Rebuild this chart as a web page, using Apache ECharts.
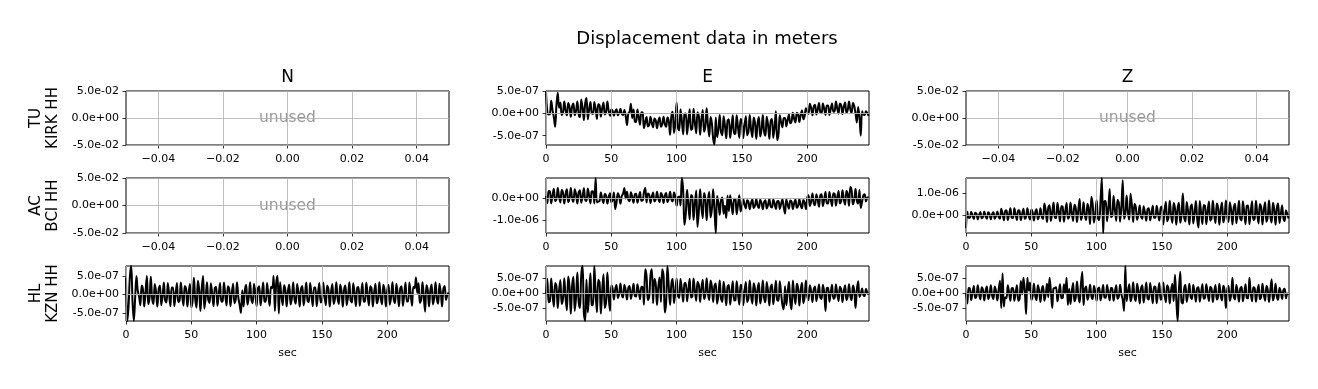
<!DOCTYPE html>
<html><head><meta charset="utf-8">
<script src="https://cdn.jsdelivr.net/npm/echarts@6/dist/echarts.min.js"></script>
<style>html,body{margin:0;padding:0;background:#fff}#c{width:1318px;height:389px}</style>
</head><body><div id="c"></div>
<script>
const SUPTITLE = 'Displacement data in meters';
const COMPONENTS = ['N', 'E', 'Z'];
const STATIONS = ['TU\nKIRK HH', 'AC\nBCI HH', 'HL\nKZN HH'];
const X_LABEL = 'sec';
const UNUSED_LABEL = 'unused';
const DT = 1;          // seconds between samples
const UNIT = 1e-7;     // trace values below are in units of 1e-7 m
const TIME_MAX = 247.3;
const TIME_TICKS = [0, 50, 100, 150, 200];
const UNUSED_X_TICKS = [-0.04, -0.02, 0, 0.02, 0.04];
const UNUSED_Y_TICKS = [-0.05, 0, 0.05];
const TICKS_HALF = [-5e-7, 0, 5e-7];
const TICKS_AC_E = [-1e-6, 0];
const TICKS_AC_Z = [0, 1e-6];

const TU_E = [
5,0.5,-0.2,-0.1,2.9,0.8,-0.8,-3,1.9,4.7,
1.3,2.5,-0.3,0.3,2.7,0.6,-0.4,2.4,1.5,-0.7,
1.6,2.3,-0.4,0.6,2.7,-0.1,-0.8,3.2,1.4,-1.5,
2.3,3.5,-1.3,0.9,2.6,0.1,-0.1,2.6,1.0,-1.2,
2.1,1.9,-0.7,1.2,2.5,-0.2,0.3,2.7,0.6,-0.5,
0.9,0.6,-0.5,0.5,1.0,-0.4,0.1,1.1,0,-0.3,
0.8,-0.5,-2.6,0,0.4,2.2,-1.0,0.9,-1.8,-1.9,
0.9,-0.8,-2.5,0.3,0.2,-3.3,-1.9,-0.8,-2.9,-2.6,
-0.7,-2.2,-3.1,-1.1,-1.5,-3.3,-1.7,-0.9,-3.0,-2.4,
-0.7,-2.4,-3.0,-0.9,-1.7,-4.8,-0.6,0.4,-4.4,-2.3,
2.5,-3.2,-3.8,1.0,-1.6,-4.7,-0.1,0,-4.7,-1.7,
1.0,-3.7,-3.4,1.1,-2.1,-4.5,0.3,-0.5,-4.8,-1.2,
0.8,-4.1,-2.9,1.2,-2.6,-5.2,-0.8,-2.2,-5.7,-7,
-0.9,-5.3,-3.6,-0.3,-4.2,-4.9,-0.6,-2.7,-5.6,-1.6,
-1.3,-5.5,-3.1,-0.4,-4.6,-4.5,-0.4,-3.1,-5.5,-1.2,
-1.7,-5.6,-2.6,-0.6,-4.9,-4.1,-0.3,-3.6,-5.3,-0.9,
-2.1,-5.7,-2.2,-0.8,-5.2,-3.7,-0.3,-4.1,-5.0,-0.7,
-2.5,-5.7,-1.7,-1.2,-5.5,-3.2,0.5,-6,-4.7,-0.4,
-2.0,-3.1,-1.0,-1.0,-2.9,-1.4,-0.2,-2.2,-1.8,0.2,
-1.2,-2.0,0.2,-0.2,-1.9,-0.2,0.7,-1.3,-0.6,1.2,
0.5,-0.1,2.2,1.3,-0.4,1.6,2.0,-0.2,0.8,2.4,
0.3,0.1,2.3,1.1,-0.3,1.8,1.8,-0.3,1.0,2.3,
0.4,0.6,2.7,1.1,0,2.3,1.9,-0.1,1.6,2.5,
0.2,0.8,2.7,0.9,0.2,2.4,1.7,0,-2,1.5,
-0.7,-5,0.5,-0.2,-0.3,0.5,0.1,-0.5];

const AC_E = [
1.0,-2.3,3.2,2.9,-2.4,1.3,4.2,-1.4,-0.6,4.5,
0.4,-2.0,3.6,2.4,-2.5,1.9,3.9,-1.8,-0.1,4.5,
-0.2,-1.7,4.0,1.8,-2.5,2.5,3.5,-2.1,0.5,4.4,
-0.8,-1.3,4.3,1.2,-2.4,3.0,3.1,-2.4,9,-2.0,
-1.6,-1.3,2.5,-0.3,-2.3,1.8,1.1,-2.5,0.5,2.2,
-1.9,-0.9,2.5,-5,-2.0,2.1,0.7,-2.5,0.9,1.9,
4.5,-0.2,2.8,-0.8,-1.4,2.6,0.6,-2.1,1.6,1.9,
-2.1,0.3,2.7,-1.2,-1.1,2.7,4.5,-2.0,2.0,1.5,
-2.2,0.7,2.5,-1.5,-0.7,2.8,-0.3,-1.8,2.3,1.1,
-2.2,1.1,2.3,-1.8,-0.3,2.8,-0.7,-1.5,2.5,0.7,
-3.5,0.2,0.7,-3.3,9,3.8,-12,-7.2,3.7,-3.1,
-9.6,1.4,0.7,-9.8,-2.3,3.4,-13,-6.2,3.9,-4.3,
-9.1,2.3,-0.4,-10,-1.0,2.7,-8.7,-5.0,4.0,-5.5,
-15.7,0.9,-2.1,-7.5,-1.0,0.2,-7.1,-3.5,-9,1.0,
-5.9,1.2,-2.9,-7.3,-0.3,-0.4,-7.3,-2.8,1.2,-6.0,
-3.9,-0.4,-3.0,-4.7,-1.0,-1.7,-5.0,-2.2,-0.7,-4.5,
-3.5,-0.4,-3.4,-4.5,-0.8,-2.1,-5.0,-1.8,-1.0,-4.7,
-3.1,-0.4,-3.8,-4.3,-0.6,-2.5,-4.9,-1.5,-1.3,-4.9,
-2.7,-0.5,-4.1,-7,-0.5,-2.9,-4.8,-1.1,-1.6,-5.0,
-2.3,-0.7,-4.4,-3.6,-0.4,-3.3,-4.6,-0.9,-2.0,-5.0,
0.0,1.3,-3.6,-1.7,2.0,-2.3,-3.2,1.7,-0.6,-3.9,
1.2,1.7,-3.6,-0.7,2.7,-2.4,-2.4,2.7,-0.6,-3.6,
2.2,1.8,-3.4,0.4,3.2,-2.5,-1.5,3.5,-0.7,-3.0,
3.2,1.7,-3.5,5.0,3.4,-2.8,-0.8,4.1,-1.1,-2.5,
3.6,-4.5,-1.7,1.2,1.7,-1.5,0.1,0.3];

const AC_Z = [
-5.8,1.7,-1.1,-1.0,1.7,-0.2,-1.6,1.2,0.8,-1.8,
0.3,1.6,-1.3,-0.7,1.8,-0.5,-1.5,1.4,0.6,-1.8,
0.6,1.4,-1.5,-0.4,1.8,-0.7,-1.5,3.0,0.9,-2.2,
1.9,2.3,-2.1,0.4,3.2,-1.1,-1.2,3.2,0.4,-2.1,
2.3,2.0,-2.2,0.8,3.0,-1.5,-0.7,3.3,-0.1,-1.9,
2.7,1.5,-2.3,1.3,2.8,-1.8,-0.3,3.3,-0.5,-1.6,
5.4,2.4,-3.0,3.5,4.6,-2.6,1.1,5.9,-0.9,-1.3,
5.7,1.6,-2.8,4.2,4.0,-2.9,1.8,5.6,-1.5,-0.7,
5.9,0.8,-2.5,4.8,3.3,-3.0,2.6,7.5,-2.1,0.0,
6.0,0.0,-2.1,5.3,2.6,-4.0,8.5,5.0,-3.3,0.6,
6.9,-1.1,-2.2,6.6,17,-8,6.4,6.6,-2.7,3.1,
12,-0.8,-0.2,8.8,2.4,-2.5,7.1,5.7,-2.9,4.1,
16,-1.5,0.8,9.0,1.3,-1.9,10,4.7,-3.0,5.2,
3.7,-2.0,0.3,4.5,-0.5,-1.5,4.2,1.4,-2.4,2.8,
3.2,-2.3,0.9,4.4,-1.1,-1.0,4.4,0.8,-2.3,3.3,
4.1,-4.1,2.1,6.2,-2.7,-1.0,6.7,0.1,-3.4,5.6,
3.2,-4.2,3.0,5.7,-3.3,-0.1,10,-0.8,-2.8,6.1,
2.2,-4.1,3.9,5.0,-3.7,0.8,6.6,-1.7,-5.5,6.5,
1.3,-3.9,4.7,4.3,-4.0,1.8,6.3,-2.4,-1.3,6.7,
0.4,-3.5,5.4,3.4,-4.2,2.7,5.9,-3.1,-0.4,6.8,
-0.6,-3.0,6.0,2.5,-4.1,3.6,5.3,-3.6,0.5,6.7,
-1.5,-2.3,6.4,1.6,-4.0,4.4,4.5,-4.0,1.5,6.4,
-2.2,-1.6,6.7,0.6,-3.7,5.2,3.7,-4.1,2.5,6.0,
-2.9,-0.7,6.8,-0.3,-3.2,5.8,2.8,-4.2,3.3,5.4,
-3.5,0.3,4.5,-1.2,-2.5,2.3,0.7,-1.4];

const HL_N = [
4.5,-7.2,-3,5,7.7,-2,-7.2,-1,5,1,
-0.6,-2.9,2.4,1.3,-3.3,0.9,5.0,-2.6,-1.0,4.8,
-1.1,-2.6,2.8,0.7,-3.3,1.4,2.4,-2.9,-0.5,3.2,
-1.7,-2.2,3.1,0.2,-3.2,1.9,1.9,-3.2,0.1,3.1,
-2.1,-1.7,3.2,-0.4,-3.0,2.3,1.5,-3.3,0.7,2.8,
-3.5,-1.6,4.5,-1.3,-3.6,3.7,1.3,-4.5,1.7,5.0,
-3.9,-0.9,3.3,-1.5,-2.3,3.0,0.3,-3.2,1.7,2.1,
-3.1,-0.1,3.1,-2.0,-1.8,3.2,-0.2,-3.0,2.2,1.6,
-3.2,0.5,2.9,-2.4,-1.4,3.3,-0.8,-2.8,-5,1.1,
-3.3,1.1,2.6,-2.8,-0.8,3.3,-1.4,-2.4,2.9,0.5,
-3.2,1.6,2.2,-3.0,-0.2,3.2,-1.8,-2.0,3.1,-0.1,
-3.1,2.1,1.7,5,-4.5,3.0,5,-5.2,3.3,-0.6,
-2.9,2.5,1.2,-3.3,0.9,2.7,-2.7,-1.0,3.3,-1.2,
-2.5,2.8,0.7,-3.3,1.5,2.3,-3.0,-0.4,3.2,-1.7,
-2.1,3.1,0.1,-3.2,1.9,1.9,-3.2,0.2,3.1,-2.2,
-1.7,3.2,-0.5,-2.9,2.4,1.4,-3.3,0.7,2.8,-2.6,
-1.1,3.3,-1.0,-2.6,2.7,0.9,-3.3,1.3,2.4,-2.9,
-0.6,3.3,-1.6,-2.2,3.0,0.3,-3.2,1.8,2.0,-3.1,
0,3.1,-2.0,-1.8,3.2,-0.3,-3.0,2.2,1.6,-3.3,
0.6,2.9,-2.4,-1.3,3.3,-0.9,-2.7,2.6,1.0,-3.3,
1.1,2.6,-2.8,-0.7,3.3,-1.4,-2.4,2.9,0.5,-3.2,
1.7,2.2,-3.1,-0.2,3.2,-1.9,-1.9,3.2,-0.1,-3.1,
2.1,1.7,4.6,0.4,3.0,-2.3,-1.5,3.3,-0.7,-4.7,
2.5,1.2,-3.3,1.0,2.7,-2.7,-0.9,3.3,-1.2,-2.5,
2.9,0.6,-3.3,1.5,2.3,-1.5,-0.2,0.5];

const HL_E = [
0,4.8,-3.1,-2.7,4.9,-0.5,-4.6,3.4,2.4,-5.0,
0.9,4.4,-3.7,-2.0,5.0,-1.8,-5.8,5.6,2.2,-7.0,
2.4,5.5,-6.0,-1.5,6.9,-2.9,-5.0,6.2,9.1,-6.9,
-9.4,4.6,-6.5,-0.4,6.7,-4.0,-4.1,9.1,-0.2,-6.5,
4.5,3.6,-6.9,0.8,6.3,-5.0,-3.1,6.9,-1.5,-6.0,
2.6,1.5,-2.2,1.3,2.7,-1.7,-0.3,3.2,-0.5,-1.5,
2.8,1.0,-2.2,1.7,2.4,-2.0,0.2,3.1,-0.9,-1.2,
3.0,0.6,-2.1,2.1,2.0,-3.9,8,5.6,-2.4,-1.4,
5.9,8,-3.4,4.7,3.1,-4.0,2.2,5.2,-3.0,8,
6.0,-6.5,-3.0,9.1,2.2,-4.0,3.1,4.7,-3.4,0.2,
4.9,-0.9,-1.7,4.7,1.3,-2.9,3.2,3.4,-2.8,1.1,
4.8,-1.5,-1.1,4.9,0.6,-2.6,3.8,2.8,-3.0,1.8,
4.5,-2.0,-0.5,5.0,-0.1,-2.3,4.2,2.2,-3.0,2.4,
3.2,-3.6,-0.9,4.2,-1.8,-3.0,3.8,0.5,-4.1,2.2,
2.7,-3.9,-0.1,4.0,-2.5,-2.4,4.0,-0.2,-3.9,2.8,
2.1,-4.1,0.6,3.7,-3.0,-1.8,4.2,-0.9,-3.6,3.3,
1.4,-4.2,1.3,3.4,-3.5,-1.1,4.2,-1.6,-3.1,3.7,
0.7,-4.2,2.0,2.9,-3.8,-0.4,4.1,-2.3,-2.6,4.0,
0,-4.0,-5.5,2.3,-4.1,0.4,3.8,-2.9,-5.5,4.2,
-0.7,-3.7,3.1,1.6,-4.2,1.1,3.5,-3.4,-1.3,4.2,
-1.0,-2.3,2.6,0.7,-3.0,1.3,2.2,-2.7,-0.4,2.9,
-1.5,-2.0,2.8,0.2,-6,1.7,1.8,-2.9,0.1,2.8,
-1.9,-1.6,2.9,-0.4,-2.7,2.1,1.3,-3.0,0.6,2.6,
-2.3,-1.1,3.0,-0.9,-2.4,2.5,0.8,-5,1.1,4,
-1.3,-0.3,1.5,-0.7,-1.0,1.4,0.2,-0.5];

const HL_Z = [
0,-3.5,1.6,1.4,-2.4,0.2,2.3,-1.7,-1.2,2.5,
-0.4,-2.2,1.9,1.0,-2.5,0.7,2.1,-2.0,-0.8,2.5,
-0.9,-2.0,2.1,0.6,-2.5,1.1,4,-5,6.5,-4.5,
-1.4,-1.8,2.5,0.1,-2.6,1.5,1.6,-2.6,0.1,2.5,
-2.6,-2.1,3.9,-0.5,5,1.0,-7,5,0.8,3.4,
-2.3,-1.1,3.0,-0.9,-2.4,2.5,0.8,-3.0,1.1,2.3,
-2.6,-0.6,3.0,-1.4,5,0.5,-5,1.5,1.6,1.9,
-2.8,-0.1,2.9,-1.8,-1.7,2.9,-0.2,5,-4,1.4,
-3.7,0.6,3.3,-2.8,-1.6,3.8,-0.9,-3.2,3.0,7,
-4,1.3,2.1,-2.3,-0.6,2.7,-1.1,-2.0,2.4,0.4,
-2.6,1.3,1.8,-2.5,-0.2,2.6,-1.5,-1.6,2.6,-0.1,
-2.5,1.7,1.4,-2.6,0.3,2.5,-1.9,-1.2,2.7,-0.5,
-2.3,-6,8.9,-2.7,0.8,2.9,-2.8,-1.0,3.5,-1.3,
-2.7,3.0,0.7,-3.5,1.5,2.5,-3.2,-0.4,3.4,-1.8,
-2.2,3.3,0.1,-3.4,2.1,2.0,-3.4,0.2,3.3,-2.3,
-1.8,3.4,-0.5,-3.1,2.5,1.5,-3.5,0.8,3.0,-2.7,
6,-2,-9.3,1,7,-3,-3.5,1.4,2.6,-3.0,
-0.5,3.0,-1.4,-2.0,2.7,0.3,-2.9,1.6,1.9,-2.9,
0,2.9,-1.9,-1.6,2.9,-0.3,-2.7,2.0,1.4,-3.0,
0.5,2.6,-2.2,-1.2,3.0,-0.8,-2.5,2.4,0.9,-5,
1.0,2.3,-2.6,-0.7,5,-1.3,-2.2,2.7,0.4,-2.9,
1.5,2.0,-2.8,-0.2,2.9,-1.7,-1.8,5,-0.1,-2.8,
1.9,1.6,-2.9,0.4,2.7,-2.1,-1.3,3.0,-0.6,-2.6,
2.3,1.1,-3.0,0.9,4.5,-2.5,-0.8,3.0,-1.1,-2.3,
1.7,0.4,-2.0,0.9,1.4,-1.8,-0.2,-0.5];

// panel definitions: row = station, col = component; null = unused
const PANELS = [
  [null, {trace: TU_E, min: -7.1e-7, max: 5.1e-7, ticks: TICKS_HALF}, null],
  [null, {trace: AC_E, min: -1.57e-6, max: 0.9e-6, ticks: TICKS_AC_E},
         {trace: AC_Z, min: -0.8e-6, max: 1.7e-6, ticks: TICKS_AC_Z}],
  [{trace: HL_N, min: -7.2e-7, max: 7.7e-7, ticks: TICKS_HALF},
   {trace: HL_E, min: -9.4e-7, max: 9.1e-7, ticks: TICKS_HALF},
   {trace: HL_Z, min: -9.3e-7, max: 8.9e-7, ticks: TICKS_HALF}]
];

const FONT = 'DejaVu Sans';
const LEFTS = [126, 546, 966];
const TOPS = [91, 178, 266];
const HEIGHTS = [54, 55, 55];
const W = 323;

function fmtExp(v) {
  const s = Number(v).toExponential(1);
  const parts = s.split('e');
  const sign = parts[1][0];
  const d = parts[1].slice(1).padStart(2, '0');
  return parts[0] + 'e' + sign + d;
}
function fmtFix(v) {
  const n = Number(v);
  if (Math.abs(n) < 1e-12) return '0.00';
  return (n < 0 ? '\u2212' : '') + Math.abs(n).toFixed(2);
}

const grids = [], xAxes = [], yAxes = [], series = [];
const tickStyle = (vals) => ({show: true, inside: false, length: 3.5, lineStyle: {color: '#000', width: 0.8}, customValues: vals});
const lblStyle = (vals, fmt, margin) => ({show: true, customValues: vals, formatter: fmt, fontFamily: FONT, fontSize: 11, color: '#000', margin: margin});

for (let r = 0; r < 3; r++) {
  for (let c = 0; c < 3; c++) {
    const idx = grids.length;
    grids.push({left: LEFTS[c], top: TOPS[r], width: W, height: HEIGHTS[r], show: true,
      borderColor: '#000', borderWidth: 1, backgroundColor: 'transparent', containLabel: false});
    const p = PANELS[r][c];
    const isBottom = r === 2;
    const xa = {type: 'value', gridIndex: idx, axisLine: {show: false, onZero: false}, splitLine: {show: false}};
    const ya = {type: 'value', gridIndex: idx, axisLine: {show: false, onZero: false}, splitLine: {show: false}};
    if (isBottom) {
      Object.assign(xa, {name: X_LABEL, nameLocation: 'middle', nameGap: 27,
        nameTextStyle: {fontFamily: FONT, fontSize: 11, color: '#000'}});
    }
    let xt, yt;
    if (p === null) {
      xt = UNUSED_X_TICKS; yt = UNUSED_Y_TICKS;
      Object.assign(xa, {min: -0.05, max: 0.05, axisTick: tickStyle(xt), axisLabel: lblStyle(xt, fmtFix, 9)});
      Object.assign(ya, {min: -0.05, max: 0.05, axisTick: tickStyle(yt), axisLabel: lblStyle(yt, fmtExp, 7)});
    } else {
      xt = TIME_TICKS; yt = p.ticks;
      Object.assign(xa, {min: 0, max: TIME_MAX, axisTick: tickStyle(xt), axisLabel: lblStyle(xt, v => String(Math.round(v)), 9)});
      Object.assign(ya, {min: p.min, max: p.max, axisTick: tickStyle(yt), axisLabel: lblStyle(yt, fmtExp, 7)});
    }
    // grid lines at the tick positions
    series.push({type: 'line', xAxisIndex: idx, yAxisIndex: idx, data: [], silent: true, z: 1,
      markLine: {silent: true, symbol: ['none', 'none'], label: {show: false}, animation: false,
        lineStyle: {color: '#b0b0b0', width: 0.8, type: 'solid'}, emphasis: {disabled: true},
        data: xt.map(v => ({xAxis: v})).concat(yt.map(v => ({yAxis: v})))}});
    if (p === null) {
      series.push({type: 'scatter', xAxisIndex: idx, yAxisIndex: idx, silent: true, z: 3,
        symbolSize: 1, itemStyle: {color: 'rgba(0,0,0,0)'}, data: [[0, 0]],
        label: {show: true, position: 'inside', formatter: UNUSED_LABEL, color: '#808080', fontFamily: FONT, fontSize: 15.5}});
    } else {
      series.push({type: 'line', xAxisIndex: idx, yAxisIndex: idx, showSymbol: false, symbol: 'none',
        silent: true, clip: true, z: 3, smooth: 0.35, lineStyle: {color: '#000', width: 2, join: 'round'},
        data: p.trace.map((v, i) => [i * DT, v * UNIT])});
    }
    xAxes.push(xa); yAxes.push(ya);
  }
}

const graphics = [
  {type: 'text', x: 707, y: 39, style: {text: SUPTITLE, font: '18px "DejaVu Sans"', fill: '#000', align: 'center', verticalAlign: 'middle'}}
];
COMPONENTS.forEach((t, c) => graphics.push({type: 'text', x: LEFTS[c] + W / 2, y: 78,
  style: {text: t, font: '17px "DejaVu Sans"', fill: '#000', align: 'center', verticalAlign: 'middle'}}));
STATIONS.forEach((t, r) => graphics.push({type: 'text', x: 45, y: TOPS[r] + HEIGHTS[r] / 2, rotation: Math.PI / 2,
  style: {text: t, font: '15px "DejaVu Sans"', lineHeight: 17, fill: '#000', align: 'center', verticalAlign: 'middle'}}));

const chart = echarts.init(document.getElementById('c'), null, {renderer: 'canvas'});
chart.setOption({animation: false, backgroundColor: '#fff', grid: grids, xAxis: xAxes, yAxis: yAxes, series: series, graphic: graphics});
</script></body></html>
